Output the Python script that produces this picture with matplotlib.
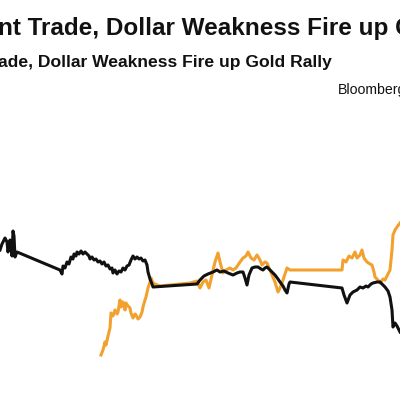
import matplotlib
matplotlib.use("Agg")
import matplotlib.pyplot as plt

BLACK = "#111111"
GOLD = "#F2A12E"

TITLE = "nt Trade, Dollar Weakness Fire up Gold Rally"
SUBTITLE = "ade, Dollar Weakness Fire up Gold Rally"
SOURCE = "Bloomberg"

# dollar series (black), trading-day index and level
dollar_x = [0, 2, 5, 7, 8, 10, 11, 12, 13, 14, 15, 17,
            60, 62, 63, 65, 67, 69, 71, 73, 74, 76, 77, 79, 81, 83, 85, 87,
            89, 90, 92, 94, 96, 98, 100, 102, 104, 106, 108, 110, 112, 113,
            115, 117, 119, 121, 123, 125, 127, 129, 131, 133, 135, 137, 139,
            141, 143, 145, 147, 148, 150, 152, 153,
            197, 200, 204, 208, 213, 217, 220, 224, 228, 233, 237, 240, 243,
            245, 247, 249, 252, 255, 258, 261, 263, 265, 267, 270, 273, 275,
            278, 280, 283, 285, 287, 289, 290,
            342, 344, 347, 350, 353, 357, 360, 363, 366, 368, 371, 373, 377,
            380, 383, 385, 388, 390, 392, 393, 395, 397, 400]
dollar_y = [150, 156, 162, 158, 148, 160, 156, 144, 169, 164, 143, 148,
            130, 126, 134, 132, 138, 136, 143, 141, 146, 144, 148, 146, 149,
            146, 148, 146, 144, 141, 143, 140, 141, 138, 139, 136, 138, 134,
            135, 131, 132, 127, 130, 126, 129, 128, 132, 130, 134, 135, 140,
            144, 141, 143, 141, 142, 139, 140, 135, 128, 121, 116, 113,
            116, 120, 124, 126, 128, 130, 128, 129, 127, 125, 127, 128, 128,
            122, 115, 125, 132, 133, 133, 131, 130, 132, 133, 130, 127, 125,
            121, 118, 114, 110, 107, 116, 118,
            112, 105, 97, 105, 108, 110, 113, 112, 114, 113, 116, 117, 118,
            118, 115, 113, 109, 103, 90, 73, 77, 74, 68]

# gold series (orange)
gold_x = [101, 103, 105, 106, 108, 110, 111, 113, 115, 117, 118, 120, 121,
          123, 125, 126, 128, 130, 131, 133, 135, 136, 138, 140, 142, 143,
          145, 146, 148, 150, 151, 153, 155, 160, 170, 180, 190, 197,
          200, 203, 206, 209, 212, 215, 218, 220, 223, 226, 230, 233, 236,
          240, 243, 246, 248, 251, 254, 257, 260, 262, 265, 267, 270, 272,
          275, 278, 280, 282, 285, 287, 290,
          342, 343, 346, 349, 352, 355, 357, 360, 362, 364, 367, 370, 372,
          374, 375, 378, 380, 383, 385, 388, 390, 392, 393, 395, 397, 400]
gold_y = [45, 50, 58, 55, 64, 72, 87, 84, 90, 86, 88, 100, 93, 98, 90, 97,
          94, 92, 87, 82, 86, 85, 81, 83, 88, 93, 100, 103, 112, 118, 122,
          117, 116, 114, 115, 116, 117, 119,
          112, 118, 120, 112, 125, 138, 147, 138, 127, 130, 132, 130, 132,
          138, 142, 144, 148, 142, 140, 145, 140, 135, 138, 137, 130, 125,
          118, 108, 112, 117, 126, 132, 130,
          130, 140, 138, 144, 142, 148, 142, 145, 150, 142, 138, 136, 135,
          128, 123, 120, 117, 121, 120, 126, 130, 150, 165, 170, 173, 177]

fig = plt.figure(figsize=(4, 4), dpi=100)
fig.patch.set_facecolor("white")
ax = fig.add_axes([0, 0, 1, 1])
ax.plot(gold_x, gold_y, color=GOLD, linewidth=2.2, solid_joinstyle="round",
        zorder=2)
ax.plot(dollar_x, dollar_y, color=BLACK, linewidth=2.2,
        solid_joinstyle="round", zorder=3)
ax.set_xlim(0, 400)
ax.set_ylim(0, 400)
ax.axis("off")

font = "Liberation Sans"
fig.text(-0.004, 0.9125, TITLE, fontsize=17.5, fontweight="bold",
         family=font, va="baseline", ha="left", color="#111111")
fig.text(-0.004, 0.8325, SUBTITLE, fontsize=12.6, fontweight="bold",
         family=font, va="baseline", ha="left", color="#111111")
fig.text(0.845, 0.765, SOURCE, fontsize=10.2, family=font,
         va="baseline", ha="left", color="#111111")

fig.savefig("out.png", dpi=100, facecolor="white")
